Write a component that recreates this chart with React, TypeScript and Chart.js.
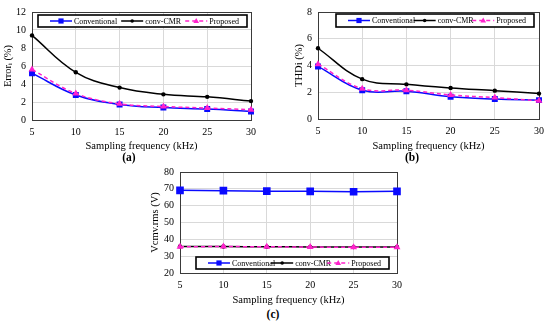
import React, { useEffect, useRef } from "react";
import { Chart, registerables } from "chart.js";
Chart.register(...registerables);

const FONT = '"Liberation Serif", "Times New Roman", serif';

const freqs = ["5", "10", "15", "20", "25", "30"];
const seriesNames = ["Conventional", "conv-CMR", "Proposed"];

const errConv = [5.2, 2.78, 1.73, 1.38, 1.22, 0.95];
const errCmr = [9.4, 5.3, 3.6, 2.85, 2.57, 2.1];
const errProp = [5.6, 2.95, 1.8, 1.5, 1.33, 1.15];

const thdConv = [3.93, 2.15, 2.07, 1.66, 1.49, 1.41];
const thdCmr = [5.29, 2.98, 2.59, 2.32, 2.12, 1.9];
const thdProp = [4.1, 2.27, 2.15, 1.8, 1.6, 1.37];

const vConv = [69.1, 68.9, 68.6, 68.5, 68.3, 68.5];
const vCmr = [35.8, 35.7, 35.6, 35.5, 35.4, 35.5];
const vProp = [35.6, 35.7, 35.6, 35.4, 35.3, 35.3];

const BLUE = "#0a0aff";
const BLACK = "#000000";
const PINK = "#ff22cc";

type LegendCfg = { left: number; right: number; top?: number; fromBottom?: number; h: number; padL: number; padR: number; font: number };

function drawMarker(ctx: CanvasRenderingContext2D, style: string, x: number, y: number, s: number, color: string) {
  ctx.save();
  ctx.setLineDash([]);
  ctx.fillStyle = color;
  ctx.beginPath();
  if (style === "rect") {
    ctx.rect(x - s, y - s, 2 * s, 2 * s);
  } else if (style === "circle") {
    ctx.arc(x, y, s, 0, Math.PI * 2);
  } else {
    ctx.moveTo(x, y - s * 1.2);
    ctx.lineTo(x + s * 1.1, y + s * 0.8);
    ctx.lineTo(x - s * 1.1, y + s * 0.8);
    ctx.closePath();
  }
  ctx.fill();
  ctx.restore();
}

function makePlugins(cfg: LegendCfg) {
  return [
    {
      id: "frameBox",
      beforeDatasetsDraw(chart: any) {
        const { ctx, chartArea: a } = chart;
        ctx.save();
        ctx.strokeStyle = "#3a3a3a";
        ctx.lineWidth = 1;
        ctx.strokeRect(Math.round(a.left) + 0.5, Math.round(a.top) + 0.5, Math.round(a.right - a.left), Math.round(a.bottom - a.top));
        ctx.restore();
      },
    },
    {
      id: "boxLegend",
      afterDraw(chart: any) {
        const { ctx, chartArea: a } = chart;
        const x0 = a.left + cfg.left;
        const x1 = a.right - cfg.right;
        const y0 = cfg.fromBottom != null ? a.bottom - cfg.fromBottom - cfg.h : a.top + (cfg.top || 0);
        ctx.save();
        ctx.fillStyle = "#fff";
        ctx.fillRect(x0, y0, x1 - x0, cfg.h);
        ctx.strokeStyle = "#000";
        ctx.lineWidth = 1.6;
        ctx.strokeRect(x0, y0, x1 - x0, cfg.h);
        ctx.font = `${cfg.font}px ${FONT}`;
        ctx.textBaseline = "middle";
        ctx.textAlign = "left";
        const ds = chart.data.datasets;
        const lineLen = 22;
        const widths = ds.map((d: any) => lineLen + 2 + ctx.measureText(d.label).width);
        const total = widths.reduce((s: number, w: number) => s + w, 0);
        const inner = x1 - x0 - cfg.padL - cfg.padR;
        const gap = (inner - total) / (ds.length - 1);
        let x = x0 + cfg.padL;
        const cy = y0 + cfg.h / 2;
        ds.forEach((d: any, i: number) => {
          ctx.strokeStyle = d.borderColor;
          ctx.lineWidth = 1.5;
          ctx.setLineDash(d.borderDash || []);
          ctx.beginPath();
          ctx.moveTo(x, cy);
          ctx.lineTo(x + lineLen, cy);
          ctx.stroke();
          ctx.setLineDash([]);
          drawMarker(ctx, d.pointStyle, x + lineLen / 2, cy, d.pointStyle === "circle" ? 1.8 : 2.6, d.borderColor);
          ctx.fillStyle = "#000";
          ctx.fillText(d.label, x + lineLen + 2, cy + 0.5);
          x += widths[i] + gap;
        });
        ctx.restore();
      },
    },
  ];
}

type PanelProps = {
  left: number; top: number; w: number; h: number;
  yWidth: number; xHeight: number; padTop: number; padRight: number;
  yMin: number; yMax: number; yStep: number; yTitle: string; yTitlePad: number;
  data: number[][]; sqR: number; triR: number; tension: number;
  legend: LegendCfg;
};

function Panel(p: PanelProps) {
  const ref = useRef<HTMLCanvasElement | null>(null);
  useEffect(() => {
    if (!ref.current) return;
    const styles = ["rect", "circle", "triangle"];
    const colors = [BLUE, BLACK, PINK];
    const radii = [p.sqR, 2.2, p.triR];
    const chart = new Chart(ref.current, {
      type: "line",
      data: {
        labels: freqs,
        datasets: p.data.map((vals, i) => ({
          label: seriesNames[i],
          data: vals,
          borderColor: colors[i],
          backgroundColor: colors[i],
          pointBackgroundColor: colors[i],
          pointBorderColor: colors[i],
          borderWidth: 1.5,
          borderDash: i === 2 ? [4, 3] : [],
          pointStyle: styles[i],
          pointRadius: radii[i],
          pointBorderWidth: 0,
          tension: p.tension,
          fill: false,
          order: 3 - i,
        })),
      },
      options: {
        responsive: false,
        animation: false,
        devicePixelRatio: 1,
        layout: { padding: { top: p.padTop, right: p.padRight, left: 0, bottom: 0 } },
        plugins: { legend: { display: false }, tooltip: { enabled: false } },
        scales: {
          x: {
            type: "category",
            offset: false,
            grid: { color: "#d9d9d9", drawTicks: false, lineWidth: 1 },
            border: { color: "#3a3a3a" },
            ticks: { color: "#000", font: { family: FONT, size: 10 }, padding: 6, maxRotation: 0 },
            title: { display: true, text: "Sampling frequency (kHz)", color: "#000", font: { family: FONT, size: 10.5 }, padding: { top: 0, bottom: 1 } },
            afterFit: (s: any) => { s.height = p.xHeight; },
          },
          y: {
            min: p.yMin,
            max: p.yMax,
            grid: { color: "#d9d9d9", drawTicks: false, lineWidth: 1 },
            border: { color: "#3a3a3a" },
            ticks: { stepSize: p.yStep, color: "#000", font: { family: FONT, size: 10 }, padding: 6 },
            title: { display: true, text: p.yTitle, color: "#000", font: { family: FONT, size: 10.5 }, padding: { top: p.yTitlePad, bottom: 0 } },
            afterFit: (s: any) => { s.width = p.yWidth; },
          },
        },
      } as any,
      plugins: makePlugins(p.legend) as any,
    });
    return () => chart.destroy();
  }, []);
  return (
    <div style={{ position: "absolute", left: p.left, top: p.top, width: p.w, height: p.h }}>
      <canvas ref={ref} width={p.w} height={p.h} style={{ width: p.w, height: p.h, display: "block" }} />
    </div>
  );
}

const capStyle: React.CSSProperties = {
  position: "absolute",
  fontFamily: FONT,
  fontWeight: "bold",
  fontSize: 11.5,
  lineHeight: "12px",
  transform: "translate(-50%, -50%)",
  color: "#000",
};

export default function App() {
  return (
    <div style={{ position: "fixed", left: 0, top: 0, width: 550, height: 324, background: "#fff", overflow: "hidden" }}>
      <Panel
        left={0} top={0} w={262} h={154} yWidth={32} xHeight={34} padTop={9} padRight={10}
        yMin={0} yMax={12} yStep={2} yTitle={"Errorᵢ (%)"} yTitlePad={2}
        data={[errConv, errCmr, errProp]} sqR={4.2} triR={4} tension={0.4}
        legend={{ left: 6, right: 4, top: 3, h: 12, padL: 12, padR: 8, font: 8 }}
      />
      <Panel
        left={280} top={0} w={270} h={154} yWidth={38} xHeight={35} padTop={10} padRight={6}
        yMin={0} yMax={8} yStep={2} yTitle={"THDi (%)"} yTitlePad={13}
        data={[thdConv, thdCmr, thdProp]} sqR={4.2} triR={4} tension={0.4}
        legend={{ left: 18, right: 5, top: 2, h: 13, padL: 12, padR: 8, font: 8 }}
      />
      <Panel
        left={140} top={160} w={270} h={148} yWidth={40} xHeight={35} padTop={12} padRight={13}
        yMin={20} yMax={80} yStep={10} yTitle={"Vcmv.rms (V)"} yTitlePad={9}
        data={[vConv, vCmr, vProp]} sqR={5.4} triR={4} tension={0.2}
        legend={{ left: 16, right: 8, fromBottom: 4, h: 12, padL: 12, padR: 8, font: 8 }}
      />
      <div style={{ ...capStyle, left: 129, top: 157 }}>(a)</div>
      <div style={{ ...capStyle, left: 412, top: 157 }}>(b)</div>
      <div style={{ ...capStyle, left: 273, top: 314 }}>(c)</div>
    </div>
  );
}
